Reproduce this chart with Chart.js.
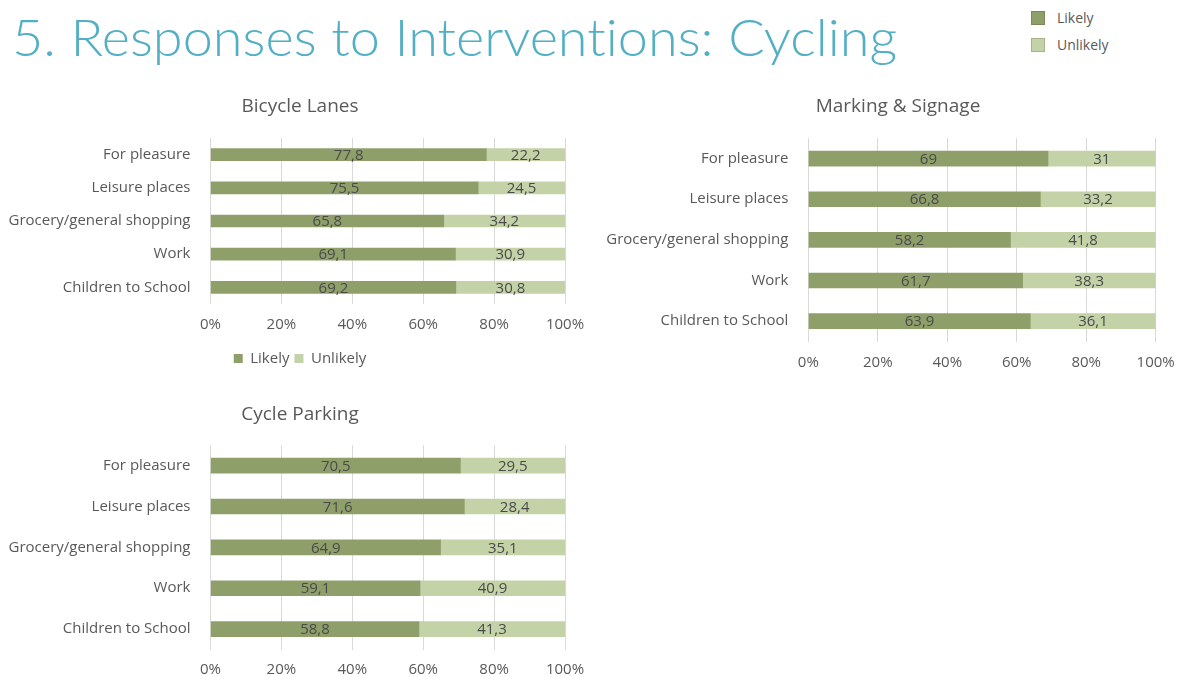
<!DOCTYPE html>
<html>
<head>
<meta charset="utf-8">
<script src="https://cdn.jsdelivr.net/npm/chart.js@4.4.1/dist/chart.umd.min.js"></script>
<style>
  html, body { margin: 0; padding: 0; background: #ffffff; }
  body { width: 1187px; height: 677px; position: relative; overflow: hidden; font-family: "Open Sans", sans-serif; }
  #mainTitle { position: absolute; left: 12px; top: 11px; font-family: Lato, "Open Sans", sans-serif; font-weight: 300; font-size: 51px; line-height: 51px; color: #52afc4; white-space: nowrap; transform-origin: 0 0; font-variant-ligatures: none; font-feature-settings: "liga" 0; }
  .cw { position: absolute; }
  #topLegend { position: absolute; left: 1031px; top: 11px; font-family: "Open Sans", sans-serif; font-size: 14px; color: #595959; }
  #topLegend .item { position: relative; height: 27px; }
  #topLegend .sw { position: absolute; left: 0; top: 0; width: 12px; height: 12px; border: 1px solid; }
  #topLegend .lb { position: absolute; left: 26px; top: -2px; line-height: 18px; }
</style>
</head>
<body>
<div id="mainTitle">5. Responses to Interventions: Cycling</div>
<div id="topLegend">
  <div class="item"><span class="sw" id="sw1"></span><span class="lb" id="lg1"></span></div>
  <div class="item"><span class="sw" id="sw2"></span><span class="lb" id="lg2"></span></div>
</div>
<div class="cw" style="left:0px;top:90px;width:600px;height:286px;"><canvas id="c1"></canvas></div>
<div class="cw" style="left:605px;top:90px;width:582px;height:294px;"><canvas id="c2"></canvas></div>
<div class="cw" style="left:0px;top:398px;width:600px;height:292px;"><canvas id="c3"></canvas></div>
<script>
// ---- data ----
const categories = ["For pleasure", "Leisure places", "Grocery/general shopping", "Work", "Children to School"];
const seriesNames = ["Likely", "Unlikely"];
const chartTitles = ["Bicycle Lanes", "Marking & Signage", "Cycle Parking"];
const xTickValues = [0, 20, 40, 60, 80, 100];

const bicycleLanesLikely   = [77.8, 75.5, 65.8, 69.1, 69.2];
const bicycleLanesUnlikely = [22.2, 24.5, 34.2, 30.9, 30.8];

const markingLikely   = [69, 66.8, 58.2, 61.7, 63.9];
const markingUnlikely = [31, 33.2, 41.8, 38.3, 36.1];

const parkingLikely   = [70.5, 71.6, 64.9, 59.1, 58.8];
const parkingUnlikely = [29.5, 28.4, 35.1, 40.9, 41.3];

// ---- styles ----
const COL_LIKELY = "#8f9f6a";
const COL_UNLIKELY = "#c4d2a8";
const TEXT = "#595959";
const GRID = "#d9d9d9";
const FONT = "'Open Sans', sans-serif";

document.getElementById("sw1").style.cssText += "background:" + COL_LIKELY + ";border-color:#7b8b58;";
document.getElementById("sw2").style.cssText += "background:" + COL_UNLIKELY + ";border-color:#a6b489;";
document.getElementById("lg1").textContent = seriesNames[0];
document.getElementById("lg2").textContent = seriesNames[1];

// fit main title width
(function () {
  const t = document.getElementById("mainTitle");
  const w = t.getBoundingClientRect().width;
  t.style.transform = "scaleX(" + (885 / w) + ")";
})();

const valueLabels = {
  id: "valueLabels",
  afterDatasetsDraw(chart) {
    const ctx = chart.ctx;
    ctx.save();
    ctx.font = "15px " + FONT;
    ctx.fillStyle = "#4a4a4a";
    ctx.textAlign = "center";
    ctx.textBaseline = "middle";
    chart.data.datasets.forEach((ds, di) => {
      const meta = chart.getDatasetMeta(di);
      meta.data.forEach((el, i) => {
        const p = el.getProps(["x", "y", "base"], true);
        const txt = String(ds.data[i]).replace(".", ",");
        const cx = (Math.min(p.x, chart.chartArea.right) + p.base) / 2;
        ctx.fillText(txt, cx, p.y + 1);
      });
    });
    ctx.restore();
  }
};

const centeredTitle = {
  id: "centeredTitle",
  afterDraw(chart, args, opts) {
    const ctx = chart.ctx;
    ctx.save();
    ctx.font = "19px " + FONT;
    ctx.fillStyle = TEXT;
    ctx.textAlign = "center";
    ctx.textBaseline = "middle";
    ctx.fillText(opts.text, chart.width / 2 + (opts.dx || 0), opts.y);
    ctx.restore();
  }
};

function makeChart(id, title, likely, unlikely, o) {
  return new Chart(document.getElementById(id), {
    type: "bar",
    data: {
      labels: categories,
      datasets: [
        { label: seriesNames[0], data: likely, backgroundColor: COL_LIKELY, barThickness: o.bar },
        { label: seriesNames[1], data: unlikely, backgroundColor: COL_UNLIKELY, barThickness: o.bar }
      ]
    },
    options: {
      indexAxis: "y",
      responsive: true,
      maintainAspectRatio: false,
      animation: false,
      layout: { padding: { left: o.padLeft || 0, right: o.padRight, top: o.padTop, bottom: 0 } },
      plugins: {
        tooltip: { enabled: false },
        title: { display: false },
        centeredTitle: { text: title, y: 17, dx: o.titleDx || 0 },
        legend: o.legend ? {
          display: true, position: "bottom",
          labels: {
            color: TEXT, boxWidth: 9, boxHeight: 9, padding: o.legendPad,
            font: { family: FONT, size: 15 }
          }
        } : { display: false }
      },
      scales: {
        x: {
          stacked: true, min: 0, max: 100,
          afterBuildTicks: (s) => { s.ticks = xTickValues.map(v => ({ value: v })); },
          grid: { color: GRID, drawTicks: false, lineWidth: 1 },
          border: { display: false },
          ticks: {
            color: TEXT, padding: o.xPad,
            font: { family: FONT, size: 15 },
            callback: (v) => v + "%"
          }
        },
        y: {
          stacked: true,
          grid: { display: false, drawTicks: false },
          border: { display: false },
          afterFit: (s) => {
            s.width = o.yWidth;
            // let long category labels extend past the (narrowed) axis box
            s._computeLabelArea = () => undefined;
          },
          ticks: {
            color: TEXT, padding: 20,
            font: { family: FONT, size: 15 }
          }
        }
      }
    },
    plugins: [valueLabels, centeredTitle]
  });
}

makeChart("c1", chartTitles[0], bicycleLanesLikely, bicycleLanesUnlikely,
  { bar: 12, padLeft: 35, padRight: 35, padTop: 48, xPad: 12, legend: true, legendPad: 5, yWidth: 175.5 });
makeChart("c2", chartTitles[1], markingLikely, markingUnlikely,
  { bar: 15, padRight: 23.7, padTop: 48.25, xPad: 12.25, legend: false, yWidth: 203.3, titleDx: 2 });
makeChart("c3", chartTitles[2], parkingLikely, parkingUnlikely,
  { bar: 15, padRight: 35, padTop: 47.25, xPad: 11.25, legend: false, yWidth: 210.5 });
</script>
</body>
</html>
